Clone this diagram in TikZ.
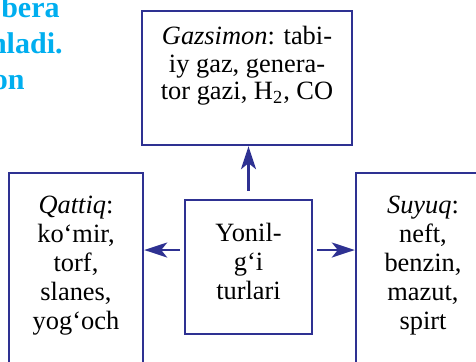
\documentclass[tikz,border=0pt]{standalone}
\usepackage{fontspec}
\setmainfont{Liberation Serif}
\usetikzlibrary{positioning,arrows.meta}
\definecolor{FrameBlue}{HTML}{2E3192}
\definecolor{HeadCyan}{HTML}{00AEEF}

\begin{document}
\begin{tikzpicture}[x=0.5pt,y=-0.5pt,>={Stealth[length=11.5pt,width=7.5pt,inset=3pt]},
  frame/.style={draw=FrameBlue,line width=1.2pt,minimum height=67pt},
  boxtext/.style={align=center,inner sep=0pt,font=\fontsize{13.2}{14.5}\selectfont},
  heading/.style={text=HeadCyan,inner sep=0pt,font=\fontsize{15}{18}\selectfont\bfseries},
  arr/.style={->,draw=FrameBlue,line width=1.2pt}]
  \useasboundingbox (0,0) rectangle (476,361);
  \clip (0,0) rectangle (476,361);
  \node[heading,anchor=base east] (head1) at (60,17) {bera};
  \node[heading,anchor=base east] (head2) at (63,53) {nladi.};
  \node[heading,anchor=base east] (head3) at (25,89) {on};
  \node[frame,minimum width=105pt] (gaz) at (247,78) {};
  \node[frame,minimum width=63.5pt] (yonilgi) at (248.5,267) {};
  \node[frame,minimum width=67pt,minimum height=118.5pt] (qattiq) at (76,291.5) {};
  \node[frame,minimum width=67pt,minimum height=118.5pt] (suyuq) at (423,291.5) {};
  \node[boxtext,font=\fontsize{13.2}{13.8}\selectfont,anchor=north,below=8pt of gaz.north] (gaztxt)
    {\textit{Gazsimon}: tabi-\\iy gaz, genera-\\tor gazi, H\textsubscript{2}, CO};
  \node[boxtext,anchor=north,below=12pt of yonilgi.north] (yonilgitxt)
    {Yonil-\\g‘i\\turlari};
  \node[boxtext,anchor=north,below=12pt of qattiq.north] (qattiqtxt)
    {\textit{Qattiq}:\\ko‘mir,\\torf,\\slanes,\\yog‘och};
  \node[boxtext,anchor=north,below=12pt of suyuq.north] (suyuqtxt)
    {\textit{Suyuq}:\\neft,\\benzin,\\mazut,\\spirt};
  \coordinate (split) at (248,250);
  \draw[arr,shorten <=4pt] (yonilgi.north) -- (yonilgi.north |- gaz.south);
  \draw[arr,shorten <=2pt] (yonilgi.west |- split) -- (qattiq.east |- split);
  \draw[arr,shorten <=2pt] (yonilgi.east |- split) -- (suyuq.west |- split);
\end{tikzpicture}
\end{document}
